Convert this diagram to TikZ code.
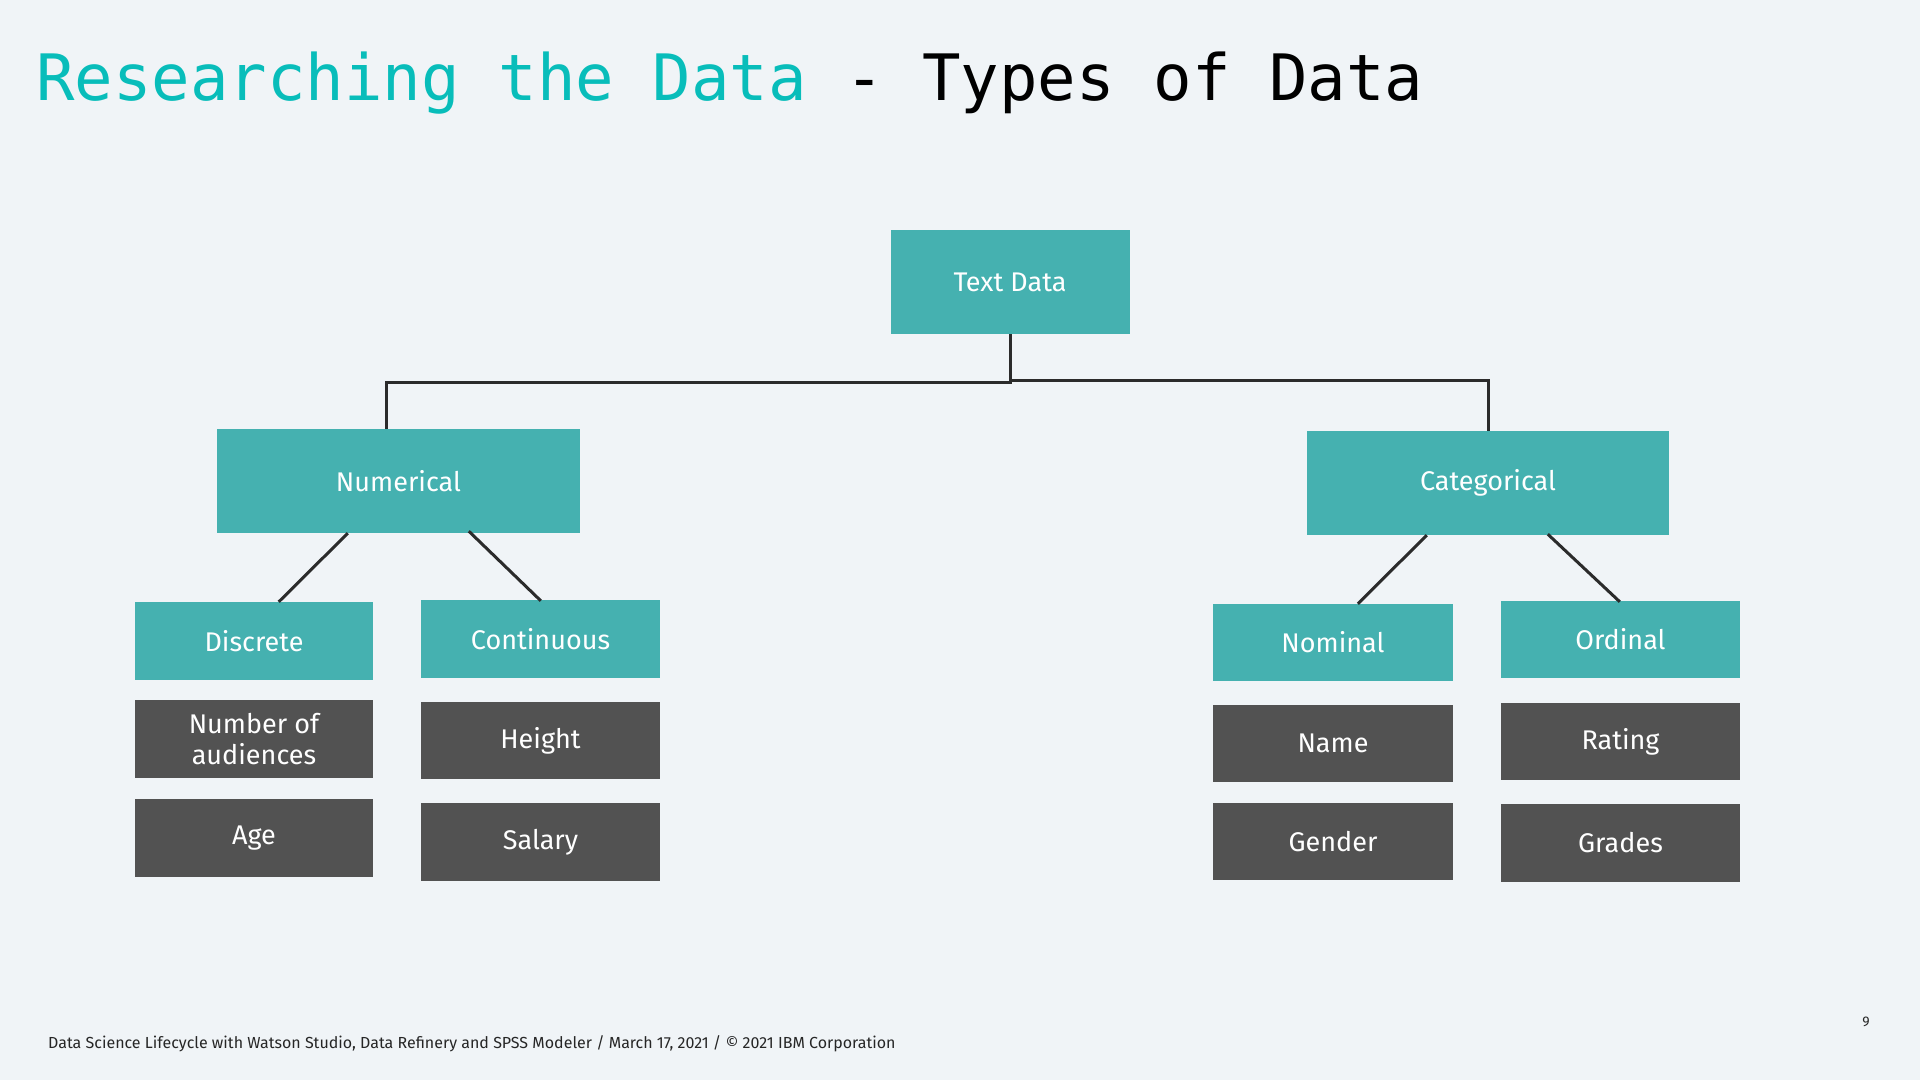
\documentclass[tikz,border=0pt]{standalone}
\usepackage{fontspec}
\setmainfont{Fira Sans}
\newfontfamily\titlefont{DejaVu Sans Mono}
\usetikzlibrary{calc}

\definecolor{pagebg}{HTML}{F0F4F7}
\definecolor{tealbox}{HTML}{45B1B0}
\definecolor{darkbox}{HTML}{525252}
\definecolor{tealtext}{HTML}{08BDBA}
\definecolor{linkcol}{HTML}{2B2B2B}

\tikzset{
  x=1pt, y=-1pt,
  box/.style={rectangle, inner sep=0pt, text=white, align=center,
    font=\fontsize{27}{31}\selectfont},
  catbox/.style={box, fill=tealbox},
  valbox/.style={box, fill=darkbox},
  link/.style={draw=linkcol, line width=3pt},
}

\begin{document}
\begin{tikzpicture}
  % page
  \fill[pagebg] (0,0) rectangle (1920,1080);
  \useasboundingbox (0,0) rectangle (1920,1080);

  % heading
  \node[anchor=base west, inner sep=0pt, font=\titlefont\fontsize{64}{70}\selectfont] (title) at (36,100)
    {\textcolor{tealtext}{Researching the Data} \textcolor{black}{- Types of Data}};

  % root
  \node[catbox, minimum width=239pt, minimum height=104pt] (txt) at (1010,282) {Text Data};

  % main groups
  \node[catbox, minimum width=363pt, minimum height=104pt] (num) at (398.5,481) {Numerical};
  \node[catbox, minimum width=362pt, minimum height=104pt] (cat) at (1488,483) {Categorical};

  % sub-types
  \node[catbox, minimum width=238pt, minimum height=78pt] (disc) at (254,641) {Discrete};
  \node[catbox, minimum width=239pt, minimum height=78pt] (cont) at (540.5,639) {Continuous};
  \node[catbox, minimum width=240pt, minimum height=77pt] (nom) at (1333,642.5) {Nominal};
  \node[catbox, minimum width=239pt, minimum height=77pt] (ord) at (1620.5,639.5) {Ordinal};

  % examples
  \node[valbox, minimum width=238pt, minimum height=78pt] (nof) at (254,739) {Number of\\audiences};
  \node[valbox, minimum width=238pt, minimum height=78pt] (age) at (254,838) {Age};
  \node[valbox, minimum width=239pt, minimum height=77pt] (hgt) at (540.5,740.5) {Height};
  \node[valbox, minimum width=239pt, minimum height=78pt] (sal) at (540.5,842) {Salary};
  \node[valbox, minimum width=240pt, minimum height=77pt] (name) at (1333,743.5) {Name};
  \node[valbox, minimum width=240pt, minimum height=77pt] (gen) at (1333,841.5) {Gender};
  \node[valbox, minimum width=239pt, minimum height=77pt] (rat) at (1620.5,741.5) {Rating};
  \node[valbox, minimum width=239pt, minimum height=78pt] (grd) at (1620.5,843) {Grades};

  % tree links from the root
  \coordinate (jl) at (386,382);
  \coordinate (jr) at (1488,380);
  \draw[link] (txt.south) |- (jl) -- (jl |- num.north);
  \draw[link] (txt.south |- jr) -- (jr) -- (cat.north);

  % diagonal links to sub-types
  \draw[link] ($(num.south west)+(131,0)$) -- ($(disc.north west)+(144,0)$);
  \draw[link] ($(num.south west)+(252,-2)$) -- ($(cont.north west)+(120,1)$);
  \draw[link] ($(cat.south west)+(120,0)$) -- ($(nom.north west)+(145,0)$);
  \draw[link] ($(cat.south west)+(241,-1)$) -- ($(ord.north west)+(119,1)$);

  % footer
  \node[anchor=base west, inner sep=0pt, font=\fontsize{16}{19}\selectfont, text=black!85] (foot) at (48,1048)
    {Data Science Lifecycle with Watson Studio, Data Refinery and SPSS Modeler / March 17, 2021 / © 2021 IBM Corporation};
  \node[anchor=base, inner sep=0pt, font=\fontsize{14}{16}\selectfont, text=black!85] (pnum) at (1866,1026) {9};
\end{tikzpicture}
\end{document}
